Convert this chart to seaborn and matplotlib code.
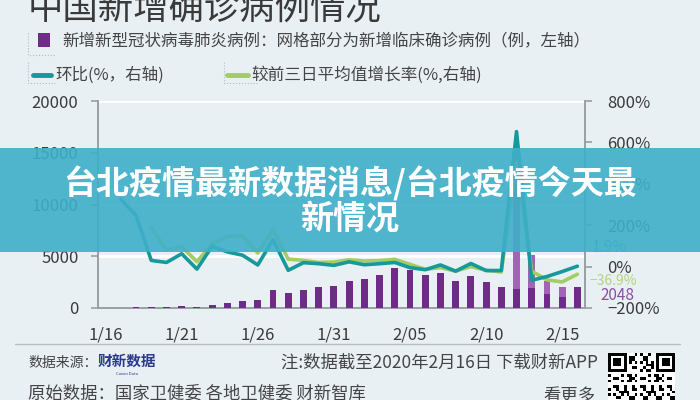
# Recreation of the Caixin "中国新增确诊病例情况" chart with the banner overlay
import numpy as np
import pandas as pd
import matplotlib
matplotlib.use("Agg")
import matplotlib.pyplot as plt
from matplotlib.patches import Rectangle
from matplotlib.lines import Line2D
from matplotlib.ticker import FixedLocator, FuncFormatter
import seaborn as sns

# --- data ---
dates = ["1/16", "1/17", "1/18", "1/19", "1/20", "1/21", "1/22", "1/23",
         "1/24", "1/25", "1/26", "1/27", "1/28", "1/29", "1/30", "1/31",
         "2/01", "2/02", "2/03", "2/04", "2/05", "2/06", "2/07", "2/08",
         "2/09", "2/10", "2/11", "2/12", "2/13", "2/14", "2/15", "2/16"]
new_cases = [4, 17, 59, 77, 92, 149, 131, 259, 444, 688, 769, 1771, 1459, 1737,
             1982, 2102, 2590, 2829, 3235, 3887, 3694, 3143, 3399, 2656, 3062,
             2478, 2015, 15152, 5090, 2641, 2009, 2048]
clinical = [0, 0, 0, 0, 0, 0, 0, 0, 0, 0, 0, 0, 0, 0, 0, 0,
            0, 0, 0, 0, 0, 0, 0, 0, 0, 0, 0, 13332, 3150, 1250, 950, 0]
day_ratio = [np.nan, 325, 247, 30, 20, 62, -12, 98, 71, 55, 8, 130, -18, 19, 14, 6,
             23, 9, 14, 20, -5, -15, 8, -22, 15, -19, -19, 652, -66, -48, -24, 1.9]
avg3_ratio = [np.nan, np.nan, np.nan, 189, 80, 96, 24, 109, 147, 147, 66, 179, 36, 30,
              20, 22, 33, 27, 29, 35, 11, -13, -5, -22, 0, -18, -26, 502, -22, -64,
              -74, -36.9]
label_dates = ["1/16", "1/21", "1/26", "1/31", "2/05", "2/10", "2/15"]

BG = "#e9f0f4"
DARK = "#6e2b87"
LIGHT = "#a066b4"
TEAL = "#17989a"
GREEN = "#a3cd63"
GREY = "#9a9fa3"
TXT = "#3a3a3a"

sns.set_style("white")
plt.rcParams["font.family"] = ["Noto Sans CJK SC", "DejaVu Sans"]
plt.rcParams["axes.unicode_minus"] = True

df = pd.DataFrame({"date": dates, "total": new_cases,
                   "confirmed": [t - c for t, c in zip(new_cases, clinical)],
                   "ratio": day_ratio, "avg3": avg3_ratio})
df["pos"] = np.arange(len(df))

W, H = 700, 400
fig = plt.figure(figsize=(7, 4), dpi=100, facecolor=BG)


def fx(px):
    return px / W


def fy(py):
    return 1 - py / H


ax = fig.add_axes([fx(98), fy(308), 487 / W, 207 / H])
ax.set_facecolor("none")

sns.barplot(data=df, x="date", y="total", color=LIGHT, width=0.45, saturation=1,
            errorbar=None, ax=ax, zorder=2, linewidth=0)
sns.barplot(data=df, x="date", y="confirmed", color=DARK, width=0.45, saturation=1,
            errorbar=None, ax=ax, zorder=3, linewidth=0)

ax.set_ylim(0, 20000)
ax.set_yticks([0, 5000, 10000, 15000, 20000])
ax.yaxis.grid(True, color="white", lw=2)
ax.set_axisbelow(True)
ax.set_xlabel("")
ax.set_ylabel("")

# ticks on category boundaries, labels on the bars
n = len(dates)
ax.xaxis.set_major_locator(FixedLocator(np.arange(-0.5, n, 5)))
ax.xaxis.set_major_formatter(FuncFormatter(lambda v, p: ""))
label_pos = [dates.index(d) for d in label_dates]
ax.xaxis.set_minor_locator(FixedLocator(label_pos))
ax.set_xticklabels(label_dates, minor=True)
ax.tick_params(axis="x", which="major", length=5, width=1.2, color=GREY)
ax.tick_params(axis="x", which="minor", length=0, pad=13, labelsize=12, labelcolor=TXT)
ax.tick_params(axis="y", length=5, width=1.2, color=GREY, pad=9, labelsize=12,
               labelcolor=TXT)

for s in ["top", "right"]:
    ax.spines[s].set_visible(False)
for s in ["left", "bottom"]:
    ax.spines[s].set_color(GREY)
    ax.spines[s].set_linewidth(1.4)

ax2 = ax.twinx()
sns.lineplot(data=df.dropna(subset=["ratio"]), x="pos", y="ratio", color=TEAL,
             lw=2.6, ax=ax2, zorder=5)
sns.lineplot(data=df.dropna(subset=["avg3"]), x="pos", y="avg3", color=GREEN,
             lw=2.6, ax=ax2, zorder=4)
ax2.set_ylim(-200, 800)
ax2.set_yticks([-200, 0, 200, 400, 600, 800])
ax2.yaxis.set_major_formatter(FuncFormatter(lambda v, p: f"{v:.0f}%".replace("-", "\u2212")))
ax2.set_xlabel("")
ax2.set_ylabel("")
ax2.tick_params(axis="y", length=5, width=1.2, color=GREY, pad=11, labelsize=12,
                labelcolor=TXT)
for s in ["top", "left", "bottom"]:
    ax2.spines[s].set_visible(False)
ax2.spines["right"].set_color(GREY)
ax2.spines["right"].set_linewidth(1.4)
ax.set_xlim(-0.5, n - 0.5)

for lab in ax.get_xticklabels(minor=True) + ax.get_yticklabels() + ax2.get_yticklabels():
    lab.set_fontweight("light")

# end-of-series labels
fig.text(fx(592), fy(248), f"{day_ratio[-1]}%", color="#3fa9b5", fontsize=11, va="center",
         fontweight="light")
fig.text(fx(590), fy(281), f"\u2212{abs(avg3_ratio[-1])}%", color="#b3d47e", fontsize=10,
         va="center", fontweight="light")
fig.text(fx(600), fy(295), f"{new_cases[-1]}", color="#8a4fa5", fontsize=11, va="center",
         fontweight="light")

# title and legend
fig.text(fx(28), fy(8), "中国新增确诊病例情况", fontsize=25.5, color=TXT, va="center")
fig.add_artist(Rectangle((fx(38), fy(47)), 12 / W, 14 / H, transform=fig.transFigure,
                         facecolor=DARK, edgecolor="none"))
fig.text(fx(62), fy(41), "新增新型冠状病毒肺炎病例：网格部分为新增临床确诊病例（例，左轴）",
         fontsize=11.9, color="#444444", va="center")
fig.add_artist(Line2D([fx(33), fx(51)], [fy(75), fy(75)], color=TEAL, lw=3.5,
                      transform=fig.transFigure))
fig.text(fx(55), fy(75), "环比(%，右轴)", fontsize=11.9, color="#444444", va="center")
fig.add_artist(Line2D([fx(227), fx(248)], [fy(75), fy(75)], color=GREEN, lw=3.5,
                      transform=fig.transFigure))
fig.text(fx(251), fy(75), "较前三日平均值增长率(%,右轴)", fontsize=12, color="#444444",
         va="center")

# faint dotted guides around the legend keys
for xs, ys in [([28, 28, 55], [33, 55, 55]), ([28, 28, 55], [62, 83, 83]),
               ([224, 224, 257], [62, 83, 83])]:
    fig.add_artist(Line2D([fx(v) for v in xs], [fy(v) for v in ys], color="#b4b8bb",
                          lw=0.8, ls=":", transform=fig.transFigure))

# footer
fig.add_artist(Line2D([fx(15), fx(680)], [fy(344), fy(344)], color="#b8bfc3", lw=1,
                      transform=fig.transFigure))
fig.text(fx(28), fy(363), "数据来源：", fontsize=10, color="#444444", va="center")
fig.text(fx(127), fy(361), "财新数据", fontsize=10.5, color="#2b3b8c", va="center",
         ha="center", fontweight="black")
fig.text(fx(127), fy(374), "Caixin Data", fontsize=3, color="#2b3b8c", va="center",
         ha="center")
fig.text(fx(598), fy(363), "注:数据截至2020年2月16日 下载财新APP", fontsize=12.5,
         color="#444444", va="center", ha="right")
fig.text(fx(28), fy(394), "原始数据：国家卫健委 各地卫健委 财新智库", fontsize=12.5,
         color="#444444", va="center")
fig.text(fx(543), fy(397), "看更多", fontsize=12.5, color="#444444", va="center")

# QR code block (decorative)
qa = fig.add_axes([fx(608), fy(420), 67 / W, 67 / H])
m = 25
ii, jj = np.indices((m, m))
qr = ((ii * 7 + jj * 13 + ii * jj * 3 + (ii // 3) * (jj // 2)) % 5 < 2).astype(float)
for r, c in [(0, 0), (0, m - 7), (m - 7, 0)]:
    qr[max(r - 1, 0):r + 8, max(c - 1, 0):c + 8] = 0
    qr[r:r + 7, c:c + 7] = 1
    qr[r + 1:r + 6, c + 1:c + 6] = 0
    qr[r + 2:r + 5, c + 2:c + 5] = 1
qa.imshow(qr, cmap="Greys", interpolation="nearest", aspect="auto")
qa.axis("off")

# overlay banner
fig.add_artist(Rectangle((0, fy(252)), 1, 104 / H, transform=fig.transFigure,
                         facecolor="#3eafc8", alpha=0.9, edgecolor="none", zorder=10))
fig.text(0.5, fy(184), "台北疫情最新数据消息/台北疫情今天最", fontsize=23.8, color="white",
         fontweight="black", ha="center", va="center", zorder=11)
fig.text(0.5, fy(219), "新情况", fontsize=23.8, color="white", fontweight="black",
         ha="center", va="center", zorder=11)

fig.savefig("out.png", dpi=100, facecolor=BG)
